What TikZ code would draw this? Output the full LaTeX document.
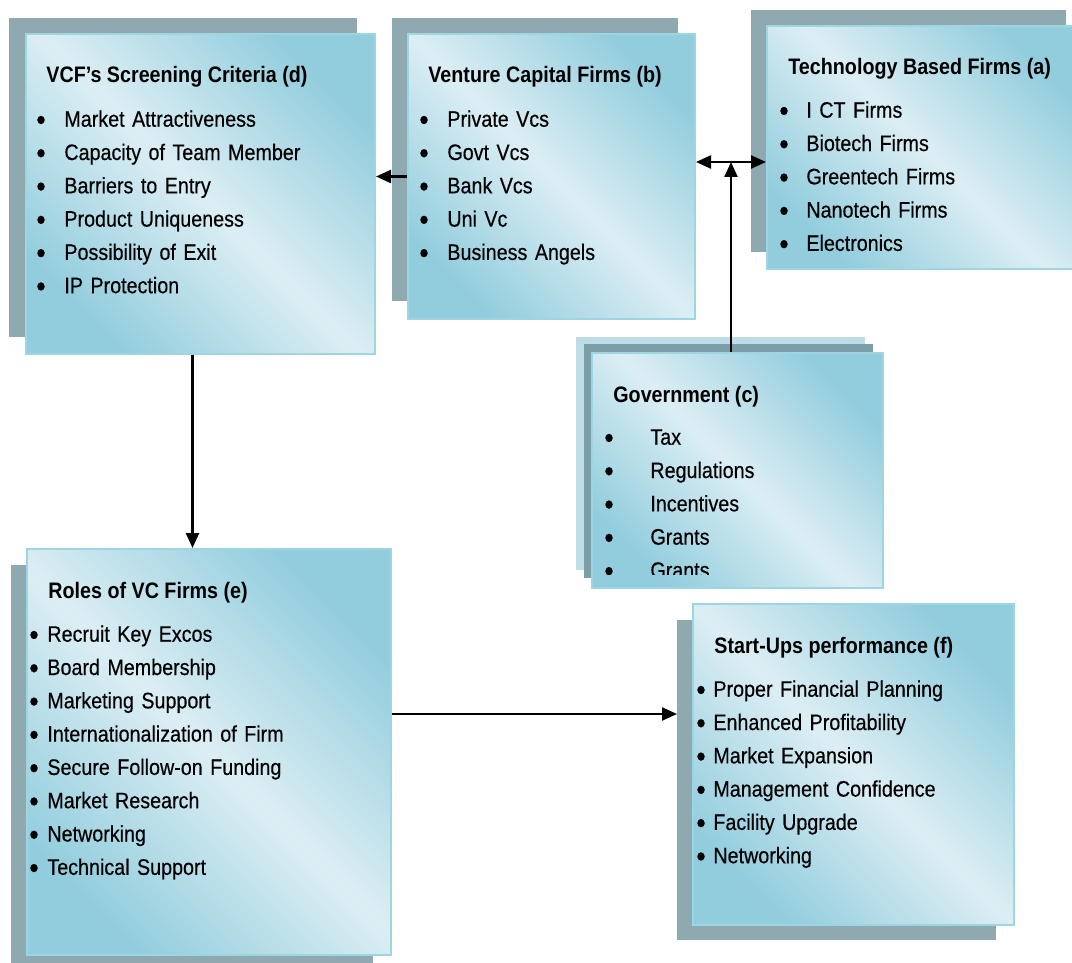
\documentclass[tikz,border=0pt]{standalone}
\usepackage{fontspec}
\setmainfont{Liberation Sans}[FakeStretch=0.88, UprightFeatures={FakeBold=0.4}]
\usetikzlibrary{arrows.meta,calc}

\definecolor{panellight}{HTML}{DCEEF4}
\definecolor{paneldark}{HTML}{92CDDD}
\definecolor{panelborder}{HTML}{9ED5E3}
\definecolor{shadowgray}{HTML}{8FA9B1}
\definecolor{shadowlight}{HTML}{BFDDE6}
\definecolor{shadowdark}{HTML}{7B9EA9}

\newlength{\bullettab}
\newcommand{\bitem}{\strut\makebox[\bullettab][l]{\raisebox{-1.6pt}{\fontsize{15}{15}\selectfont\textbullet}}}

\begin{document}
\begin{tikzpicture}[x=0.5pt, y=-0.5pt,
panel/.style={rectangle, draw=panelborder, line width=1pt, top color=paneldark, bottom color=paneldark, middle color=panellight, shading angle=-45, anchor=north west, inner sep=0pt},
backing/.style={rectangle, fill=#1, anchor=north west, inner sep=0pt, outer sep=0pt},
title/.style={anchor=base west, inner sep=0pt, font=\fontsize{11.2}{16.65}\selectfont\bfseries},
itemlist/.style={anchor=north west, inner sep=0pt, align=left, text width=170pt, font=\fontsize{11.2}{16.65}\selectfont, execute at begin node={\global\bullettab=#1\relax}},
>={Triangle[length=7.5pt,width=6.5pt]}, link/.style={line width=1.2pt, ->},
]
\path[use as bounding box, fill=white] (0,0) rectangle (1072,963);

%% shadows
\node[backing=shadowgray, minimum width=174pt, minimum height=159.5pt] (d-sh) at (9,18) {};
\node[backing=shadowgray, minimum width=143pt, minimum height=141.5pt] (b-sh) at (392,18) {};
\node[backing=shadowgray, minimum width=157.5pt, minimum height=121pt] (a-sh) at (751,10) {};
\node[backing=shadowlight, minimum width=144.5pt, minimum height=116.5pt] (c-sh1) at (576,337) {};
\node[backing=shadowdark, minimum width=144.5pt, minimum height=117pt] (c-sh2) at (584,344) {};
\node[backing=shadowgray, minimum width=181pt, minimum height=200pt] (e-sh) at (11,565) {};
\node[backing=shadowgray, minimum width=159.5pt, minimum height=160pt] (f-sh) at (677,620) {};

%% panels
\node[panel, minimum width=174.5pt, minimum height=160pt] (d) at (25,33) {};
\node[panel, minimum width=143.5pt, minimum height=142.5pt] (b) at (407,33) {};
\node[panel, minimum width=157.5pt, minimum height=121.5pt] (a) at (766,25) {};
\node[panel, minimum width=145.5pt, minimum height=117.5pt] (c) at (591,352) {};
\node[panel, minimum width=182pt, minimum height=203pt] (e) at (26,548) {};
\node[panel, minimum width=160.5pt, minimum height=160.5pt] (f) at (692,603) {};

%% texts
\node[title] (d-title) at ($(d.north west)+(21,50)$) {VCF’s Screening Criteria (d)};
\node[itemlist=14pt] (d-list) at ($(d.north west)+(11,70)$) {\bitem Market Attractiveness\\ \bitem Capacity of Team Member\\ \bitem Barriers to Entry\\ \bitem Product Uniqueness\\ \bitem Possibility of Exit\\ \bitem IP Protection};

\node[title] (b-title) at ($(b.north west)+(21,50)$) {Venture Capital Firms (b)};
\node[itemlist=14pt] (b-list) at ($(b.north west)+(12,70)$) {\bitem Private Vcs\\ \bitem Govt Vcs\\ \bitem Bank Vcs\\ \bitem Uni Vc\\ \bitem Business Angels};

\node[title] (a-title) at ($(a.north west)+(22,50)$) {Technology Based Firms (a)};
\node[itemlist=13.5pt] (a-list) at ($(a.north west)+(13,69)$) {\bitem I CT Firms\\ \bitem Biotech Firms\\ \bitem Greentech Firms\\ \bitem Nanotech Firms\\ \bitem Electronics};

\node[title] (c-title) at ($(c.north west)+(22,50)$) {Government (c)};
\begin{scope}
\clip (c.north west) rectangle ($(c.south east)+(0,-15)$);
\node[itemlist=23pt] (c-list) at ($(c.north west)+(13,69)$) {\bitem Tax\\ \bitem Regulations\\ \bitem Incentives\\ \bitem Grants\\ \bitem Grants};
\end{scope}

\node[title] (e-title) at ($(e.north west)+(22,50)$) {Roles of VC Firms (e)};
\node[itemlist=9pt] (e-list) at ($(e.north west)+(3,70)$) {\bitem Recruit Key Excos\\ \bitem Board Membership\\ \bitem Marketing Support\\ \bitem Internationalization of Firm\\ \bitem Secure Follow-on Funding\\ \bitem Market Research\\ \bitem Networking\\ \bitem Technical Support};

\node[title] (f-title) at ($(f.north west)+(22,50)$) {Start-Ups performance (f)};
\node[itemlist=8.5pt] (f-list) at ($(f.north west)+(4,70)$) {\bitem Proper Financial Planning\\ \bitem Enhanced Profitability\\ \bitem Market Expansion\\ \bitem Management Confidence\\ \bitem Facility Upgrade\\ \bitem Networking};

%% Lines
\coordinate (hub) at ($(b.east)!0.5!(a.west)$);
\coordinate (dout) at ([xshift=-4pt]d.south);
\coordinate (eout) at ([yshift=19pt]e.east);
\draw[link] (b.west) -- (b.west -| d.east);
\draw[link, <->] (hub -| b.east) -- (hub -| a.west);
\draw[link] (hub |- c.north) -- (hub);
\draw[link] (dout) -- (dout |- e.north);
\draw[link] (eout) -- (eout -| f-sh.west);
\end{tikzpicture}
\end{document}
